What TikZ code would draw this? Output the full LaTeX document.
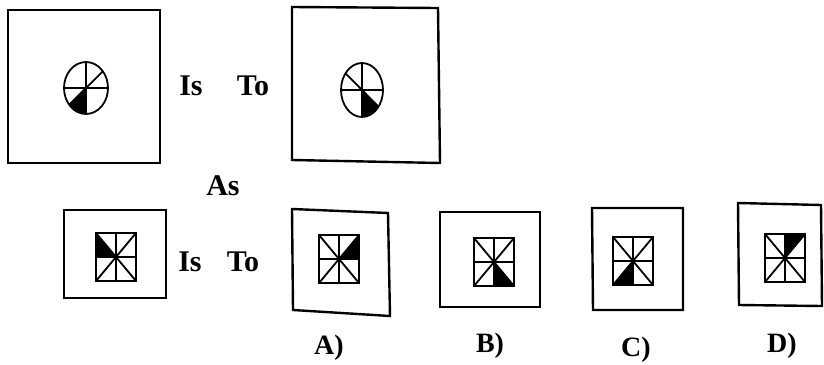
\documentclass[tikz,border=0pt]{standalone}
\usepackage{fontspec}
\setmainfont{Liberation Serif}
\usetikzlibrary{calc}

\tikzset{
    outer box/.style={
      draw=black,
      line width=2.4pt
    },
    fig line/.style={
      draw=black,
      line width=1.8pt
    },
    fig fill/.style={
      fill=black
    },
    word label/.style={
      font=\fontsize{30}{32}\selectfont\bfseries,
      inner sep=0pt
    },
    option label/.style={
      font=\fontsize{28}{30}\selectfont\bfseries,
      inner sep=0pt
    }
  }

% square with both diagonals, both mid lines
\newcommand{\starsq}[2]{%
  \begin{scope}[shift={(#1,#2)}]
    \draw[fig line] (-20,-24) rectangle (20,24);
    \draw[fig line] (-20,-24) -- (20,24);
    \draw[fig line] (20,-24) -- (-20,24);
    \draw[fig line] (0,-24) -- (0,24);
    \draw[fig line] (-20,0) -- (20,0);
  \end{scope}}

\begin{document}
\begin{tikzpicture}[x=1pt,y=-1pt]
      \useasboundingbox (0,0) rectangle (824,364);

      % frames
      \draw[outer box] (8,10) rectangle (160,163);
      \draw[outer box] (292,7) -- (438,8) -- (440,163) -- (292,160) -- cycle;
      \draw[outer box] (64,210) rectangle (166,298);
      \draw[outer box] (292,209) -- (388,213) -- (390,316) -- (293,310) -- cycle;
      \draw[outer box] (440,212) rectangle (540,307);
      \draw[outer box] (592,208) -- (683,208) -- (683,310) -- (593,310) -- cycle;
      \draw[outer box] (738,203) -- (821,205) -- (822,306) -- (739,305) -- cycle;

      % ellipse 1
      \begin{scope}
        \clip (86,88) ellipse (22 and 26);
        \fill[fig fill] (86,88) -- (86,130) -- ($(86,88)+(-40,40)$) -- cycle;
      \end{scope}
      \draw[fig line] (86,88) ellipse (22 and 26);
      \draw[fig line] (86,62) -- (86,114);
      \draw[fig line] (64,88) -- (108,88);
      \draw[fig line] ($(86,88)+(16.9,-16.7)$) -- ($(86,88)+(-16.9,16.7)$);

      % ellipse 2
      \begin{scope}
        \clip (362,90) ellipse (21 and 27);
        \fill[fig fill] (362,90) -- (362,130) -- ($(362,90)+(40,40)$) -- cycle;
      \end{scope}
      \draw[fig line] (362,90) ellipse (21 and 27);
      \draw[fig line] (362,63) -- (362,117);
      \draw[fig line] (341,90) -- (383,90);
      \draw[fig line] ($(362,90)+(-16.5,-16.6)$) -- ($(362,90)+(16.5,16.6)$);

      % shaded octants
      \fill[fig fill] (96,233) -- (96,257) -- (116,257) -- cycle;
      \fill[fig fill] (359,235) -- (359,259) -- (339,259) -- cycle;
      \fill[fig fill] (494,262) -- (494,286) -- (514,286) -- cycle;
      \fill[fig fill] (633,261) -- (613,285) -- (633,285) -- cycle;
      \fill[fig fill] (785,234) -- (805,234) -- (785,258) -- cycle;

      % squares
      \starsq{116}{257}
      \starsq{339}{259}
      \starsq{494}{262}
      \starsq{633}{261}
      \starsq{785}{258}

      % words
      \node[word label] (is1) at (191,86) {Is};
      \node[word label] (to1) at (253,86) {To};
      \node[word label] (as) at (223,186) {As};
      \node[word label] (is2) at (190,262) {Is};
      \node[word label] (to2) at (243,262) {To};
      \node[option label] (la) at (329,348) {A)};
      \node[option label] (lb) at (490,346) {B)};
      \node[option label] (lc) at (636,350) {C)};
      \node[option label] (ld) at (782,346) {D)};
    \end{tikzpicture}
\end{document}
